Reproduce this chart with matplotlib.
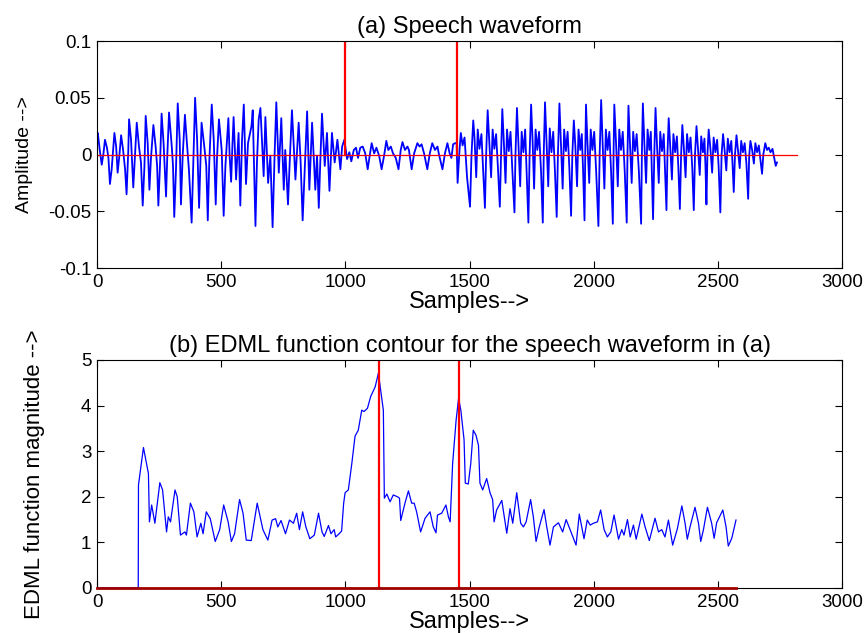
import matplotlib
matplotlib.use('Agg')
import matplotlib.pyplot as plt

plt.rcParams['font.family'] = ['Liberation Sans', 'DejaVu Sans']
plt.rcParams['axes.unicode_minus'] = False

# speech waveform, first voiced part (samples, amplitude)
voiced1_s = [1, 3, 11, 19, 26, 32, 40, 46, 52, 59, 70, 77, 83, 90, 97, 105, 113, 119, 126, 129,
             137, 146, 153, 160, 169, 177, 184, 191, 196, 204, 211, 217, 227, 236, 242, 247, 254,
             260, 268, 278, 283, 290, 301, 306, 311, 318, 325, 333, 338, 345, 354, 362, 370, 381,
             388, 395, 403, 411, 416, 421, 432, 440, 446, 452, 462, 470, 478, 483, 491, 502, 510,
             517, 529, 534, 540, 545, 550, 560, 570, 577, 584, 591, 600, 608, 622, 627, 638, 644,
             651, 658, 671, 678, 689, 698, 707, 715, 722, 732, 742, 752, 758, 769, 777, 785, 799,
             812, 820, 828, 836, 846, 855, 866, 879, 886, 893, 899, 906, 917, 926, 936, 946, 957,
             968, 980, 987, 996]
voiced1_a = [0.017, 0.019, 0.004, -0.009, 0.001, 0.013, 0.006, -0.003, -0.026, -0.013, 0.019, 0.007,
             -0.016, -0.001, 0.017, 0.004, -0.013, -0.035, 0.004, 0.031, 0.013, -0.029, -0.001, 0.028,
             0.007, -0.007, -0.045, -0.010, 0.034, 0.010, -0.031, -0.004, 0.026, 0.007, -0.010, -0.045,
             -0.007, 0.036, 0.010, -0.037, -0.001, 0.037, 0.007, -0.010, -0.055, -0.013, 0.045, 0.013,
             -0.044, -0.001, 0.035, 0.010, -0.013, -0.060, -0.004, 0.050, 0.013, -0.047, -0.010, 0.028,
             0.007, -0.010, -0.058, -0.007, 0.044, 0.013, -0.044, -0.004, 0.031, 0.004, -0.054, -0.010,
             0.032, -0.001, -0.024, 0.007, 0.033, -0.022, 0.019, -0.045, 0.013, 0.044, -0.026, 0.010,
             0.025, 0.039, -0.063, -0.007, 0.031, 0.041, -0.019, 0.033, -0.025, -0.001, -0.064, -0.001,
             0.046, -0.016, 0.032, -0.031, 0.004, -0.044, -0.001, 0.039, -0.022, 0.028, -0.007, -0.058,
             -0.016, 0.038, -0.031, 0.028, -0.031, -0.001, -0.047, -0.007, 0.036, -0.010, 0.019, -0.032,
             0.019, -0.007, 0.013, -0.013, 0.007, 0.013]

# low-amplitude part between the two voiced parts
weak_s = [1007, 1016, 1024, 1034, 1043, 1051, 1060, 1070, 1080, 1090, 1098, 1106, 1116, 1125, 1136,
          1146, 1156, 1165, 1173, 1183, 1192, 1203, 1214, 1223, 1230, 1240, 1250, 1256, 1267, 1277,
          1290, 1299, 1307, 1317, 1330, 1340, 1350, 1361, 1371, 1377, 1391, 1401, 1411, 1420, 1427,
          1434, 1442]
weak_a = [-0.004, 0.002, -0.006, 0.004, 0.006, -0.003, 0.006, 0.007, 0.001, -0.013, -0.001, 0.010,
          0.001, 0.006, -0.001, -0.013, -0.001, 0.012, 0.004, 0.007, 0.001, -0.003, -0.013, 0.004,
          0.011, 0.004, 0.007, 0.004, -0.013, 0.001, 0.010, 0.007, 0.009, 0.001, -0.013, 0.001, 0.010,
          0.004, 0.007, 0.000, -0.013, 0.001, 0.010, 0.001, -0.003, 0.009, 0.010]

# second voiced part
voiced2_s = [1448, 1452, 1460, 1465, 1472, 1480, 1490, 1502, 1508, 1515, 1520, 1527, 1533, 1540, 1548,
             1555, 1562, 1567, 1573, 1580, 1587, 1593, 1600, 1607, 1614, 1622, 1627, 1632, 1638, 1645,
             1651, 1658, 1665, 1672, 1681, 1685, 1691, 1697, 1704, 1710, 1717, 1724, 1730, 1737, 1742,
             1748, 1754, 1760, 1766, 1773, 1780, 1788, 1795, 1799, 1804, 1810, 1817, 1823, 1830, 1837,
             1844, 1851, 1856, 1862, 1868, 1875, 1881, 1888, 1895, 1902, 1909, 1914, 1920, 1926, 1933,
             1939, 1946, 1952, 1957, 1963, 1966, 1969, 1975, 1982, 1988, 1995, 2002, 2010, 2019, 2024,
             2030, 2036, 2043, 2049, 2056, 2063, 2070, 2077, 2080, 2083, 2090, 2097, 2103, 2110, 2117,
             2125, 2133, 2136, 2140, 2146, 2153, 2159, 2166, 2173, 2182, 2191, 2194, 2198, 2204, 2211,
             2217, 2224, 2230, 2234, 2239, 2244, 2249, 2255, 2262, 2268, 2275, 2282, 2287, 2293, 2297,
             2302, 2308, 2315, 2321, 2328, 2335, 2341, 2347, 2352, 2357, 2363, 2370, 2376, 2383, 2390,
             2397, 2403, 2408, 2414, 2420, 2427, 2433, 2440, 2446, 2450, 2454, 2458, 2463, 2470, 2477,
             2483, 2490, 2497, 2503, 2510, 2515, 2521, 2527, 2534, 2540, 2547, 2554, 2559, 2564, 2569,
             2575, 2581, 2588, 2594, 2601, 2608, 2615, 2622, 2626, 2631, 2638, 2645, 2651, 2658, 2665,
             2671, 2678, 2683, 2691, 2698, 2705, 2712, 2720, 2728, 2733, 2738]
voiced2_a = [0.010, -0.025, 0.005, 0.019, 0.008, 0.015, -0.020, -0.046, 0.000, 0.030, 0.015, -0.020,
             0.022, 0.005, 0.018, -0.015, -0.047, 0.000, 0.039, 0.010, -0.020, 0.022, 0.005, 0.018,
             -0.010, -0.046, 0.000, 0.040, 0.012, -0.025, 0.022, 0.003, 0.020, -0.012, -0.051, 0.000,
             0.041, 0.010, -0.028, 0.020, 0.002, 0.022, -0.015, -0.060, 0.000, 0.044, 0.012, -0.030,
             0.022, 0.004, 0.020, -0.015, -0.060, 0.002, 0.046, 0.012, -0.028, 0.023, 0.002, 0.020,
             -0.015, -0.055, 0.000, 0.045, 0.010, -0.030, 0.022, 0.003, 0.020, -0.012, -0.054, 0.000,
             0.030, 0.008, -0.028, 0.022, 0.004, 0.018, -0.012, -0.058, 0.000, 0.044, 0.010, -0.025,
             0.022, 0.004, 0.020, -0.015, -0.063, 0.000, 0.048, 0.010, -0.030, 0.022, 0.004, 0.020,
             -0.015, -0.061, 0.000, 0.044, 0.010, -0.028, 0.022, 0.004, 0.020, -0.015, -0.060, 0.000,
             0.043, 0.010, -0.025, 0.020, 0.003, 0.018, -0.015, -0.061, 0.000, 0.045, 0.010, -0.025,
             0.022, 0.004, 0.020, -0.015, -0.057, 0.000, 0.041, 0.008, -0.025, 0.020, 0.003, 0.018,
             -0.012, -0.049, 0.000, 0.032, 0.008, -0.022, 0.018, 0.002, 0.016, -0.012, -0.048, 0.000,
             0.026, 0.006, -0.020, 0.018, 0.002, 0.015, -0.012, -0.049, 0.000, 0.025, 0.005, -0.018,
             0.016, 0.002, 0.014, -0.010, -0.044, 0.000, 0.022, 0.005, -0.016, 0.015, 0.002, 0.013,
             -0.010, -0.051, 0.000, 0.018, 0.004, -0.014, 0.014, 0.002, 0.012, -0.008, -0.033, 0.000,
             0.017, 0.004, -0.012, 0.012, 0.002, 0.010, -0.008, -0.039, -0.002, 0.012, 0.004, -0.008,
             0.010, 0.002, 0.008, -0.004, -0.017, 0.000, 0.010, 0.004, 0.006, 0.002, 0.005, -0.004,
             -0.010, -0.007]

# EDML function contour
edml_s = [0, 166, 167, 187, 207, 211, 220, 233, 253, 264, 280, 287, 296, 314, 323, 336, 354, 360, 376,
          390, 403, 418, 427, 440, 456, 476, 494, 510, 528, 541, 554, 574, 588, 601, 621, 645, 657, 668,
          688, 705, 719, 728, 741, 759, 775, 791, 804, 815, 828, 841, 857, 875, 892, 906, 915, 932, 942,
          955, 961, 975, 985, 993, 999, 1012, 1026, 1039, 1052, 1066, 1075, 1089, 1102, 1120, 1133,
          1142, 1153, 1157, 1167, 1180, 1193, 1210, 1218, 1223, 1240, 1254, 1267, 1277, 1287, 1303,
          1321, 1341, 1354, 1365, 1371, 1388, 1405, 1415, 1422, 1432, 1446, 1456, 1465, 1478, 1483,
          1495, 1505, 1515, 1526, 1536, 1542, 1553, 1569, 1583, 1593, 1599, 1609, 1630, 1643, 1650,
          1663, 1674, 1690, 1706, 1717, 1728, 1746, 1757, 1768, 1781, 1800, 1811, 1824, 1838, 1858,
          1875, 1889, 1905, 1929, 1942, 1961, 1974, 1986, 1999, 2015, 2028, 2042, 2055, 2069, 2082,
          2100, 2113, 2122, 2136, 2147, 2160, 2171, 2194, 2207, 2224, 2247, 2261, 2274, 2287, 2301,
          2318, 2337, 2355, 2368, 2377, 2388, 2408, 2422, 2431, 2442, 2458, 2475, 2485, 2495, 2520,
          2533, 2542, 2556, 2573]
edml_v = [0, 0, 2.26, 3.08, 2.51, 1.45, 1.82, 1.42, 2.31, 2.15, 1.23, 1.56, 1.45, 2.15, 2.0, 1.16, 1.23,
          1.16, 1.86, 1.67, 1.12, 1.42, 1.19, 1.67, 1.52, 1.02, 1.28, 1.82, 1.45, 1.02, 1.19, 1.94, 1.64,
          1.05, 1.04, 1.86, 1.56, 1.28, 1.05, 1.49, 1.52, 1.34, 1.48, 1.19, 1.49, 1.42, 1.64, 1.28, 1.67,
          1.34, 1.08, 1.16, 1.64, 1.23, 1.13, 1.37, 1.19, 1.28, 1.12, 1.19, 1.25, 1.85, 2.09, 2.15, 2.73,
          3.33, 3.46, 3.90, 3.87, 3.94, 4.20, 4.41, 4.71, 4.34, 3.90, 1.97, 2.06, 1.89, 2.04, 2.0, 1.97,
          1.48, 1.86, 2.13, 1.86, 1.86, 1.67, 1.23, 1.53, 1.67, 1.34, 1.21, 1.60, 1.64, 1.82, 1.56, 1.45,
          2.73, 3.68, 4.16, 3.90, 3.25, 2.30, 2.28, 2.73, 3.46, 3.35, 3.13, 2.30, 2.15, 2.40, 2.08, 1.94,
          1.45, 1.71, 1.92, 1.45, 1.20, 1.74, 1.42, 2.09, 1.42, 1.34, 1.45, 1.94, 1.56, 1.02, 1.34, 1.72,
          1.34, 0.94, 1.34, 1.43, 1.23, 1.50, 1.28, 0.94, 1.62, 1.08, 1.49, 1.38, 1.42, 1.45, 1.71, 1.28,
          1.12, 1.23, 1.60, 1.07, 1.28, 1.16, 1.50, 1.12, 1.38, 1.07, 1.62, 1.34, 1.04, 1.53, 1.23, 1.28,
          1.12, 1.49, 0.94, 1.30, 1.80, 1.42, 1.07, 1.34, 1.77, 1.42, 1.02, 1.28, 1.77, 1.42, 1.09, 1.43,
          1.71, 1.34, 0.92, 1.09, 1.49]

marks_a = [999, 1450]
marks_b = [1136, 1458]
zero_end_a = 2819
zero_end_b = 2573

wave_s = voiced1_s + weak_s + voiced2_s
wave_a = voiced1_a + weak_a + voiced2_a

fig = plt.figure(figsize=(8.67, 6.33), dpi=100)
ax1 = fig.add_axes([0.1119, 0.5766, 0.8593, 0.3586])
ax2 = fig.add_axes([0.1119, 0.0711, 0.8593, 0.3602])

ax1.plot(wave_s, wave_a, color='b', lw=1.3)
ax1.plot([0, zero_end_a], [0, 0], color='r', lw=0.9)
for m in marks_a:
    ax1.plot([m, m], [0, 0.1], color='r', lw=1.6)
ax1.set_xlim(0, 3000)
ax1.set_ylim(-0.1, 0.1)
ax1.set_yticks([-0.1, -0.05, 0, 0.05, 0.1])
ax1.set_yticklabels(['-0.1', '-0.05', '0', '0.05', '0.1'])
ax1.set_title('(a) Speech waveform', fontsize=17, pad=6)
ax1.set_xlabel('Samples-->', fontsize=17, labelpad=0)
ax1.set_ylabel('Amplitude -->', fontsize=14, labelpad=11)

ax2.plot(edml_s, edml_v, color='b', lw=0.9)
ax2.plot([0, zero_end_b], [0, 0], color='#a00000', lw=2, clip_on=False, zorder=3)
for m in marks_b:
    ax2.plot([m, m], [0, 5], color='r', lw=1.6)
ax2.set_xlim(0, 3000)
ax2.set_ylim(0, 5)
ax2.set_yticks([0, 1, 2, 3, 4, 5])
ax2.set_title('(b) EDML function contour for the speech waveform in (a)', fontsize=17, pad=6)
ax2.set_xlabel('Samples-->', fontsize=17, labelpad=0)
ax2.set_ylabel('EDML function magnitude -->', fontsize=16, labelpad=26)

for ax in (ax1, ax2):
    ax.set_xticks([0, 500, 1000, 1500, 2000, 2500, 3000])
    ax.tick_params(direction='in', top=True, right=True, labelsize=13.5, length=5, pad=4)

plt.savefig('out.png', dpi=100)
